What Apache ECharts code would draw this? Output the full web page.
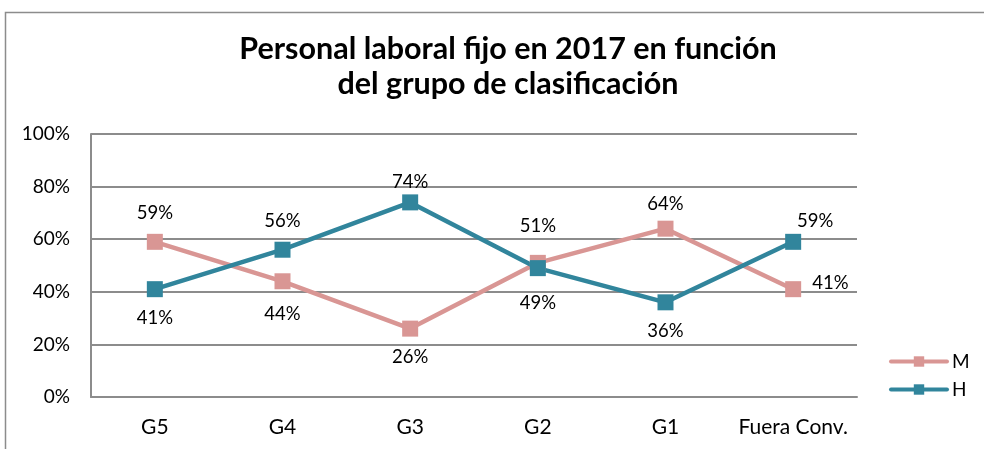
<!DOCTYPE html>
<html>
<head>
<meta charset="utf-8">
<title>Personal laboral fijo 2017</title>
<script src="https://cdn.jsdelivr.net/npm/echarts@6/dist/echarts.min.js"></script>
<style>
  html, body { margin: 0; padding: 0; background: #fff; }
  #chart { width: 984px; height: 449px; }
</style>
</head>
<body>
<div id="chart"></div>
<script>
// datos
var grupos = ['G5', 'G4', 'G3', 'G2', 'G1', 'Fuera Conv.'];
var mujeres = [59, 44, 26, 51, 64, 41];
var hombres = [41, 56, 74, 49, 36, 59];
// posicion de cada etiqueta y desplazamiento vertical
var posM = ['top', 'bottom', 'bottom', 'top', 'top', 'right'];
var posH = ['bottom', 'top', 'top', 'bottom', 'bottom', 'top'];
var dyM = [0, 4, 0, -8, 4, -6];
var dyH = [0, 0, 8, 6, 0, 8];
var dxH = [0, 0, 0, 0, 0, 22];

var fuente = 'Lato, "DejaVu Sans", sans-serif';

function puntos(vals, pos, dy, dx) {
  return vals.map(function (v, i) {
    return { value: v, label: { position: pos[i], offset: [dx ? dx[i] : 0, dy[i]] } };
  });
}

var chart = echarts.init(document.getElementById('chart'));
chart.setOption({
  animation: false,
  title: {
    text: 'Personal laboral fijo en 2017 en función\ndel grupo de clasificación',
    left: 503,
    textAlign: 'center',
    top: 27,
    textStyle: { fontFamily: fuente, fontWeight: 'bold', fontSize: 30.5, lineHeight: 35, color: '#000' }
  },
  graphic: [{
    type: 'rect',
    shape: { x: 5.5, y: 12.5, width: 1000, height: 500 },
    style: { fill: 'none', stroke: '#8c8c8c', lineWidth: 1.5 },
    silent: true
  }],
  legend: {
    orient: 'vertical',
    left: 884,
    top: 347,
    itemWidth: 56,
    itemHeight: 13,
    itemGap: 9,
    lineStyle: { width: 4, cap: 'round' },
    textStyle: { fontFamily: fuente, fontSize: 19, color: '#000' },
    data: ['M', 'H']
  },
  grid: { left: 91, right: 127, top: 134, bottom: 52 },
  xAxis: {
    type: 'category',
    data: grupos,
    axisLine: { lineStyle: { color: '#8c8c8c', width: 2 } },
    axisTick: { show: false },
    axisLabel: { interval: 0, fontFamily: fuente, fontSize: 21, color: '#000', margin: 20 }
  },
  yAxis: {
    type: 'value',
    min: 0,
    max: 100,
    interval: 20,
    axisLine: { show: true, lineStyle: { color: '#8c8c8c', width: 2 } },
    axisTick: { show: false },
    splitLine: { lineStyle: { color: '#8c8c8c', width: 2 } },
    axisLabel: { formatter: '{value}%', fontFamily: fuente, fontSize: 19, color: '#000', margin: 21 }
  },
  series: [{
    name: 'M',
    type: 'line',
    data: puntos(mujeres, posM, dyM),
    symbol: 'rect',
    symbolSize: 16,
    color: '#d99694',
    lineStyle: { width: 4.5 },
    label: { show: true, formatter: '{c}%', fontFamily: fuente, fontSize: 18.5, color: '#000', distance: 11 }
  }, {
    name: 'H',
    type: 'line',
    data: puntos(hombres, posH, dyH, dxH),
    symbol: 'rect',
    symbolSize: 16,
    color: '#31859c',
    lineStyle: { width: 4.5 },
    label: { show: true, formatter: '{c}%', fontFamily: fuente, fontSize: 18.5, color: '#000', distance: 11 }
  }]
});
</script>
</body>
</html>
